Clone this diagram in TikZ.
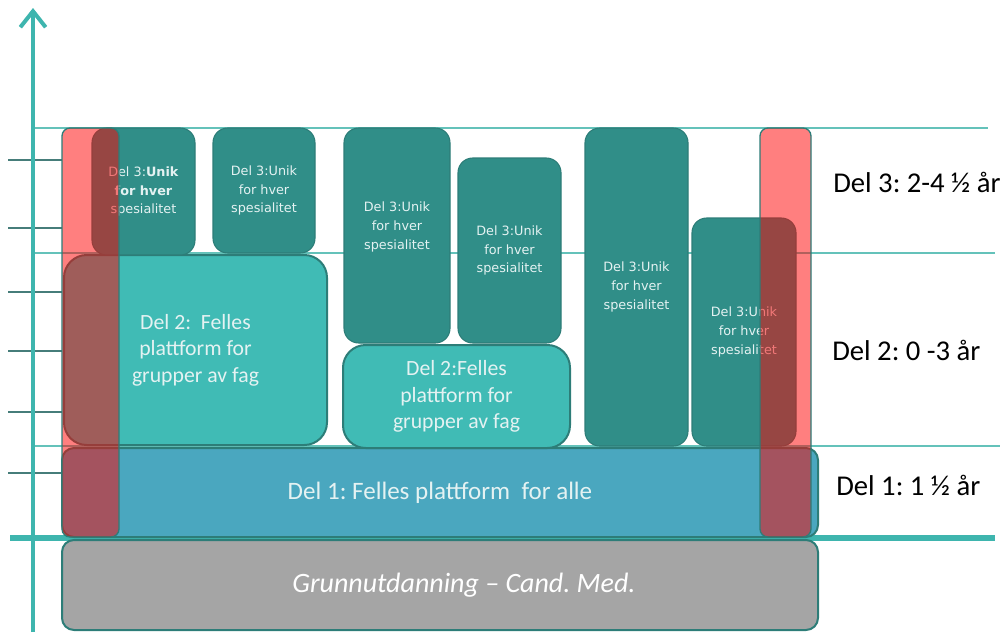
\documentclass[tikz,border=0pt]{standalone}
\usepackage{fontspec}
\setmainfont{Carlito}
\newfontfamily\dv{DejaVu Sans}
\usetikzlibrary{arrows.meta}
\frenchspacing
\definecolor{axisc}{RGB}{62,181,174}
\definecolor{gridc}{RGB}{100,194,186}
\definecolor{tickc}{RGB}{70,125,122}
\definecolor{edgec}{RGB}{45,125,120}
\definecolor{dthree}{RGB}{48,142,136}
\definecolor{dtwo}{RGB}{64,187,181}
\definecolor{done}{RGB}{74,167,191}
\definecolor{grc}{RGB}{165,165,165}
\definecolor{ltc}{RGB}{228,242,242}
\newcommand\bx[7]{\node[#6, minimum width={(#4-#2)*0.75pt}, minimum height={(#5-#3)*0.75pt}] (#1) at ({(#2+#4)/2},{(#3+#5)/2}) {#7};}
\tikzset{
  box/.style={draw=edgec, line width=1.5pt, inner sep=0pt, outer sep=0pt, align=center, text=ltc},
  dthreebox/.style={box, fill=dthree, rounded corners=11pt, line width=0.8pt, font=\dv\fontsize{9.6}{14.2}\selectfont},
  dtwobox/.style={box, fill=dtwo, rounded corners=17pt, font=\fontsize{16.3}{20}\selectfont},
  donebox/.style={box, fill=done, rounded corners=9pt, font=\fontsize{18.8}{22}\selectfont},
  grbox/.style={box, fill=grc, rounded corners=9pt, text=white, font=\itshape\fontsize{21}{24}\selectfont},
  redbar/.style={draw=edgec, line width=1pt, fill=red, fill opacity=0.5, rounded corners=6pt, inner sep=0pt, outer sep=0pt},
  lbl/.style={anchor=west, inner sep=0pt, font=\fontsize{21.5}{25}\selectfont, text=black},
  gridline/.style={draw=gridc, line width=1.1pt},
  tickline/.style={draw=tickc, line width=1pt}
}
\begin{document}
\begin{tikzpicture}[x=0.75pt,y=-0.75pt]
\useasboundingbox (0,0) rectangle (1003,632);
% grid lines
\draw[gridline] (33,128) -- (988,128);
\draw[gridline] (33,253) -- (995,253);
\draw[gridline] (33,446) -- (1000,446);
% ticks
\foreach \yy in {160,228,292,351,412,473} \draw[tickline] (8,\yy) -- (62,\yy);
% axes
\draw[axisc, line width=4.5pt] (10,538) -- (995,538);
\draw[axisc, line width=3pt, -{Straight Barb[length=12pt,width=19pt,line width=3pt]}] (33,632) -- (33,8);
% base boxes
\bx{gr}{62}{540}{818}{630}{grbox}{\hspace*{36pt}Grunnutdanning -- Cand. Med.}
\bx{one}{62}{448}{818}{537}{donebox}{Del 1: Felles plattform\ \ for alle}
\bx{twoa}{64}{255}{327}{445}{dtwobox}{Del 2:\ \ Felles\\plattform for\\grupper av fag}
\bx{twob}{343}{345}{570}{448}{dtwobox}{Del 2:Felles\\plattform for\\grupper av fag}
% Del 3 boxes
\bx{ta}{92}{128}{195}{255}{dthreebox}{Del 3:\textbf{Unik}\\\textbf{for hver}\\spesialitet}
\bx{tb}{213}{128}{315}{253}{dthreebox}{Del 3:Unik\\for hver\\spesialitet}
\bx{tc}{344}{128}{450}{343}{dthreebox}{Del 3:Unik\\for hver\\spesialitet\\[0pt]}
\bx{td}{458}{158}{561}{343}{dthreebox}{Del 3:Unik\\for hver\\spesialitet}
\bx{te}{585}{128}{688}{446}{dthreebox}{Del 3:Unik\\for hver\\spesialitet}
\bx{tf}{692}{218}{796}{446}{dthreebox}{Del 3:Unik\\for hver\\spesialitet}
% red bars
\bx{ra}{62}{128}{119}{537}{redbar}{}
\bx{rb}{760}{128}{811}{537}{redbar}{}
% labels
\node[lbl] (lthree) at (833,182) {Del 3: 2-4 ½ år};
\node[lbl] (ltwo) at (832,350) {Del 2: 0 -3 år};
\node[lbl] (lone) at (836,485) {Del 1: 1 ½ år};
\end{tikzpicture}
\end{document}
